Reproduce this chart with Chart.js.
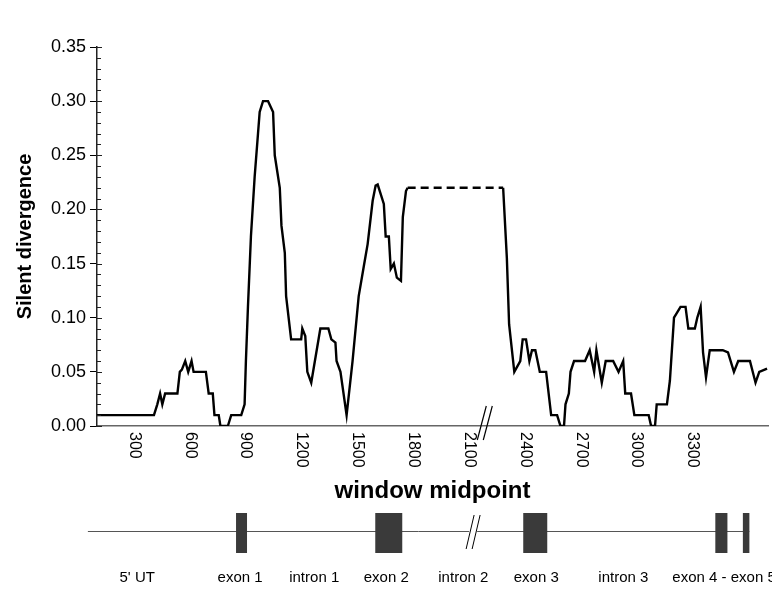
<!DOCTYPE html>
<html>
<head>
<meta charset="utf-8">
<title>Silent divergence along the gene</title>
<script src="https://cdn.jsdelivr.net/npm/chart.js@4.4.1/dist/chart.umd.min.js"></script>
<style>
  html, body { margin: 0; padding: 0; background: #fff; }
  #wrap { width: 772px; height: 589px; }
</style>
</head>
<body>
<div id="wrap"><canvas id="divChart" width="772" height="589"></canvas></div>
<script>
// window midpoint (bp) and silent divergence
const midpoints = [
  100, 406, 424, 439, 451, 466, 532, 545, 556, 574, 590, 608, 619, 685, 700, 722, 731, 754, 763, 803,
  821, 875, 893, 900, 911, 927, 947, 965, 974, 992, 1019, 1046, 1055, 1082, 1091, 1109, 1116, 1143, 1197, 1203,
  1219, 1230, 1251, 1300, 1343, 1359, 1381, 1387, 1408, 1441, 1473, 1506, 1533, 1554, 1581, 1597, 1608, 1641, 1651, 1668,
  1678, 1695, 1711, 1733, 1743, 1760, 1769, 2282, 2302, 2314, 2342, 2374, 2387, 2405, 2423, 2437, 2455, 2479, 2513, 2540,
  2572, 2590, 2609, 2617, 2635, 2644, 2663, 2722, 2747, 2771, 2783, 2812, 2833, 2873, 2902, 2927, 2938, 2969, 2987, 3064,
  3077, 3098, 3107, 3162, 3178, 3200, 3235, 3262, 3277, 3312, 3325, 3343, 3356, 3372, 3392, 3462, 3490, 3522, 3545, 3608,
  3638, 3658, 3700
];
const divergence = [
  0.01, 0.01, 0.02, 0.03, 0.02, 0.03, 0.03, 0.05, 0.052, 0.06, 0.05, 0.06, 0.05, 0.05, 0.03, 0.03, 0.01, 0.01, 0.0, 0.0,
  0.01, 0.01, 0.02, 0.06, 0.11, 0.175, 0.23, 0.27, 0.29, 0.30, 0.30, 0.29, 0.25, 0.22, 0.185, 0.16, 0.12, 0.08, 0.08, 0.09,
  0.083, 0.05, 0.04, 0.09, 0.09, 0.08, 0.077, 0.06, 0.05, 0.01, 0.06, 0.12, 0.147, 0.168, 0.208, 0.222, 0.223, 0.205, 0.175, 0.175,
  0.145, 0.15, 0.137, 0.134, 0.193, 0.217, 0.22, 0.22, 0.155, 0.094, 0.05, 0.06, 0.08, 0.08, 0.06, 0.07, 0.07, 0.05, 0.05, 0.01,
  0.01, 0.0, 0.0, 0.02, 0.03, 0.05, 0.06, 0.06, 0.07, 0.05, 0.07, 0.04, 0.06, 0.06, 0.05, 0.06, 0.03, 0.03, 0.01, 0.01,
  0.0, 0.0, 0.02, 0.02, 0.042, 0.10, 0.11, 0.11, 0.09, 0.09, 0.10, 0.11, 0.068, 0.045, 0.07, 0.07, 0.068, 0.05, 0.06, 0.06,
  0.04, 0.05, 0.053
];
// the stretch over intron 2 is drawn dashed
const dashFrom = 1769;
const dashTo = 2282;

const xTickLabels = [300, 600, 900, 1200, 1500, 1800, 2100, 2400, 2700, 3000, 3300];
const yTickLabels = [0, 0.05, 0.10, 0.15, 0.20, 0.25, 0.30, 0.35];
const axisBreakAt = 2170;

// gene map under the plot, in the same bp coordinates
const exonStarts = [847, 1595, 2390, 3422, 3570];
const exonEnds = [906, 1740, 2519, 3487, 3605];
const geneStart = 51;
const geneBreakAt = 2110;
const regionNames = ["5' UT", 'exon 1', 'intron 1', 'exon 2', 'intron 2', 'exon 3', 'intron 3', 'exon 4 - exon 5'];
const regionCentres = [316, 869, 1267, 1654, 2068, 2460, 2928, 3191];

const FONT = '"Liberation Sans", Arial, Helvetica, sans-serif';

// x tick labels run top-to-bottom, break marks and the gene map
const extrasPlugin = {
    id: 'extras',
    afterDraw(chart) {
        const ctx = chart.ctx;
        const x = chart.scales.x;
        const y = chart.scales.y;
        const area = chart.chartArea;

        ctx.save();
        // minor ticks on the y axis
        ctx.strokeStyle = '#222';
        ctx.lineWidth = 1;
        for (let i = 0; i <= 35; i++) {
            const py = Math.round(y.getPixelForValue(i / 100)) + 0.5;
            ctx.beginPath();
            ctx.moveTo(area.left, py);
            ctx.lineTo(area.left + (i % 5 === 0 ? 5 : 4), py);
            ctx.stroke();
        }

        // rotated x tick labels
        ctx.fillStyle = '#000';
        ctx.font = '16px ' + FONT;
        ctx.textAlign = 'left';
        ctx.textBaseline = 'middle';
        xTickLabels.forEach(v => {
            ctx.save();
            ctx.translate(x.getPixelForValue(v), area.bottom + 6);
            ctx.rotate(Math.PI / 2);
            ctx.fillText(String(v), 0, 0);
            ctx.restore();
        });

        // axis break
        const bx = x.getPixelForValue(axisBreakAt);
        ctx.strokeStyle = '#000';
        ctx.lineWidth = 1.2;
        [0, 6].forEach(dx => {
            ctx.beginPath();
            ctx.moveTo(bx + dx - 5, area.bottom + 14);
            ctx.lineTo(bx + dx + 4, area.bottom - 20);
            ctx.stroke();
        });

        // gene map
        const lineY = 531.5;
        ctx.strokeStyle = '#555';
        ctx.lineWidth = 1;
        ctx.beginPath();
        ctx.moveTo(x.getPixelForValue(geneStart), lineY);
        ctx.lineTo(x.getPixelForValue(exonEnds[exonEnds.length - 1]), lineY);
        ctx.stroke();

        ctx.fillStyle = '#3a3a3a';
        exonStarts.forEach((s, i) => {
            const x0 = x.getPixelForValue(s);
            const x1 = x.getPixelForValue(exonEnds[i]);
            ctx.fillRect(x0, 513, x1 - x0, 40);
        });

        // break in intron 2 (white gap then two strokes)
        const gx = x.getPixelForValue(geneBreakAt);
        ctx.fillStyle = '#fff';
        ctx.fillRect(gx - 2, lineY - 2, 8, 4);
        ctx.strokeStyle = '#000';
        [0, 6].forEach(dx => {
            ctx.beginPath();
            ctx.moveTo(gx + dx - 5, 549);
            ctx.lineTo(gx + dx + 3, 515);
            ctx.stroke();
        });

        ctx.fillStyle = '#000';
        ctx.font = '15px ' + FONT;
        ctx.textBaseline = 'middle';
        regionNames.forEach((name, i) => {
            const last = i === regionNames.length - 1;
            ctx.textAlign = last ? 'left' : 'center';
            ctx.fillText(name, x.getPixelForValue(regionCentres[i]), 578);
        });
        ctx.restore();
    }
};

new Chart(document.getElementById('divChart'), {
    type: 'line',
    data: {
        datasets: [{
            data: midpoints.map((m, i) => ({ x: m, y: divergence[i] })),
            borderColor: '#000',
            borderWidth: 2.4,
            pointRadius: 0,
            tension: 0,
            segment: {
                borderDash: c => (c.p0.parsed.x >= dashFrom && c.p1.parsed.x <= dashTo) ? [8, 5] : undefined
            }
        }]
    },
    options: {
        responsive: false,
        animation: false,
        devicePixelRatio: 1,
        layout: { padding: { top: 47, right: 4, left: 0, bottom: 0 } },
        plugins: { legend: { display: false }, tooltip: { enabled: false } },
        scales: {
            x: {
                type: 'linear',
                min: 100,
                max: 3705,
                grid: { display: false, drawTicks: false },
                border: { color: '#666', width: 1.5 },
                ticks: { display: false },
                title: {
                    display: true,
                    text: 'window midpoint',
                    color: '#000',
                    font: { family: FONT, size: 24, weight: 'bold' },
                    padding: { top: 0, bottom: 83 }
                },
                afterFit(s) { s.height = 163; }
            },
            y: {
                min: 0,
                max: 0.35,
                afterBuildTicks(s) { s.ticks = yTickLabels.map(v => ({ value: v })); },
                ticks: {
                    color: '#000',
                    padding: 4,
                    font: { family: FONT, size: 18 },
                    callback: v => v.toFixed(2)
                },
                grid: { drawOnChartArea: false, drawTicks: true, tickLength: 7, color: '#000' },
                border: { color: '#222', width: 1.5 },
                title: {
                    display: true,
                    text: 'Silent divergence',
                    color: '#000',
                    font: { family: FONT, size: 20, weight: 'bold' },
                    padding: { top: 13, bottom: 0 }
                },
                afterFit(s) { s.width = 97; }
            }
        }
    },
    plugins: [extrasPlugin]
});
</script>
</body>
</html>
